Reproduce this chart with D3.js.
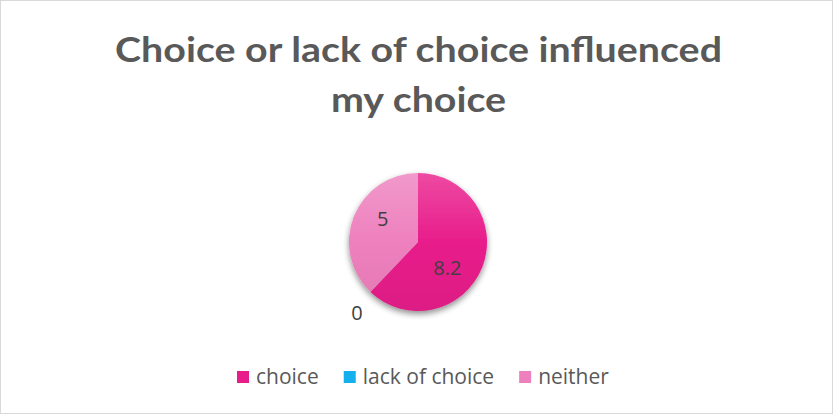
<!DOCTYPE html>
<html><head><meta charset="utf-8">
<script src="https://cdn.jsdelivr.net/npm/d3@7"></script>
<style>body{margin:0;background:#fff;}svg{display:block;}</style>
</head><body>
<script>
const categories = ["choice", "lack of choice", "neither"];
const values = [8.2, 0, 5];
const colors = ["#e81d8b", "#14b0ee", "#ee80be"];
const titleLines = ["Choice or lack of choice influenced", "my choice"];

const W = 833, H = 414;
const FONT = "Lato, 'Open Sans', sans-serif";
const FONT2 = "'Open Sans', Lato, sans-serif";
const svg = d3.select("body").append("svg").attr("width", W).attr("height", H);
const defs = svg.append("defs");
const f = defs.append("filter").attr("id", "sh").attr("x", "-30%").attr("y", "-30%").attr("width", "160%").attr("height", "160%");
f.append("feGaussianBlur").attr("in", "SourceAlpha").attr("stdDeviation", 3);
f.append("feOffset").attr("dx", 0).attr("dy", 3).attr("result", "b");
f.append("feComponentTransfer").append("feFuncA").attr("type", "linear").attr("slope", 0.45);
const m = f.append("feMerge"); m.append("feMergeNode"); m.append("feMergeNode").attr("in", "SourceGraphic");

const cx = 418, cy = 242, R = 69;

colors.forEach((c, i) => {
  const g = defs.append("linearGradient").attr("id", "g" + i)
    .attr("gradientUnits", "userSpaceOnUse")
    .attr("x1", 0).attr("y1", -R).attr("x2", 0).attr("y2", R);
  g.append("stop").attr("offset", "0%").attr("stop-color", d3.interpolateRgb(c, "#ffffff")(0.2));
  g.append("stop").attr("offset", "50%").attr("stop-color", c);
  g.append("stop").attr("offset", "100%").attr("stop-color", d3.color(c).darker(0.15));
});

svg.append("rect").attr("x", 0.5).attr("y", 0.5).attr("width", W - 1).attr("height", H - 1)
  .attr("fill", "#fff").attr("stroke", "#d9d9d9");

// title, horizontally stretched to match the reference's wider face
const tg = svg.append("g");
const tt = tg.selectAll("text").data(titleLines).join("text")
  .attr("x", 0).attr("y", (d, i) => 62 + i * 50)
  .attr("text-anchor", "middle").attr("font-family", FONT)
  .attr("font-weight", "bold").attr("font-size", 35).attr("fill", "#595959").text(d => d);
const w1 = tt.nodes()[0].getComputedTextLength();
const sx = 607 / w1;
tg.attr("transform", `translate(418.5,0) scale(${sx},1)`);

const pie = d3.pie().sort(null).value(d => d)(values);
const arc = d3.arc().innerRadius(0).outerRadius(R);
const g = svg.append("g").attr("transform", `translate(${cx},${cy})`);
const pg = g.append("g").attr("filter", "url(#sh)");
pg.selectAll("path").data(pie).join("path")
  .attr("d", arc).attr("fill", (d, i) => `url(#g${i})`);

// data labels ("best fit" placement): radius factor and angular shift per slice
const labelRadius = [0.57, 1.36, 0.61];
const labelShift = [20, -3, 11];
g.selectAll("text").data(pie).join("text")
  .attr("transform", (d, i) => {
    const a = (d.startAngle + d.endAngle) / 2 + labelShift[i] * Math.PI / 180;
    const r = R * labelRadius[i];
    return `translate(${r * Math.sin(a)},${-r * Math.cos(a)})`;
  })
  .attr("text-anchor", "middle").attr("dy", "0.35em")
  .attr("font-family", FONT2).attr("font-size", 20).attr("fill", "#404040")
  .text(d => d.value);

// legend laid out in a row, each entry placed after the previous one's text
const lg = svg.append("g").attr("transform", "translate(237,371)");
let lx = 0;
categories.forEach((c, i) => {
  const e = lg.append("g").attr("transform", `translate(${lx},0)`);
  e.append("rect").attr("width", 12).attr("height", 12).attr("fill", colors[i]);
  const t = e.append("text").attr("x", 19).attr("y", 6).attr("dy", "0.35em")
    .attr("font-family", FONT2).attr("font-size", 21).attr("fill", "#595959").text(c);
  lx += 19 + t.node().getComputedTextLength() + 25;
});
</script>
</body></html>
